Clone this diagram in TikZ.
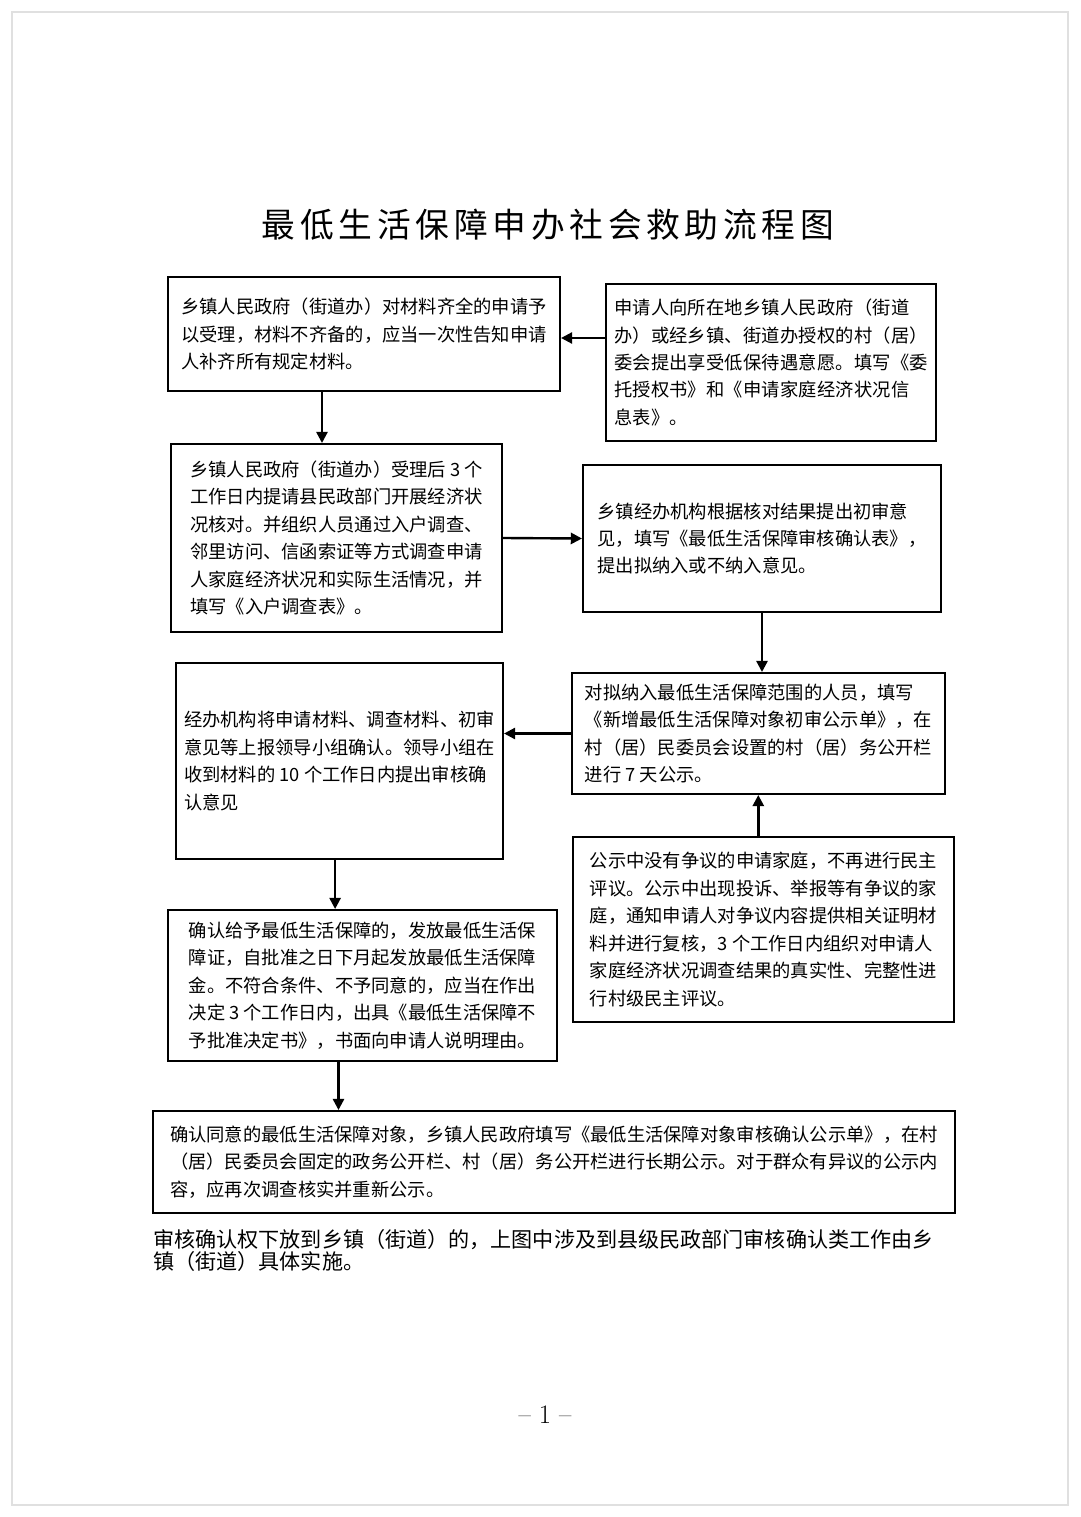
\documentclass[tikz,border=0pt]{standalone}
\usepackage{fontspec}
\usepackage{tikz}
\usepackage{xcolor}
\usetikzlibrary{arrows.meta}
\newfontfamily\cjk{Noto Sans CJK SC}
\newfontfamily\cjkwide[LetterSpace=1]{Noto Sans CJK SC}
\newfontfamily\cjktitle[LetterSpace=14]{Noto Sans CJK SC}
\tikzset{
    flow-box/.style = {draw=black, fill=white, line width=1.4pt, rectangle, align=left, inner sep=4pt,
        font=\cjk\fontsize{13pt}{19.5pt}\selectfont},
    flow-arrow/.style = {line width=1.7pt, -{Triangle[length=2.8mm, width=2.8mm]}},
    page-frame/.style = {draw=black!12, line width=1.5pt},
}

\begin{document}
\begin{tikzpicture}[x=0.025cm, y=-0.025cm]
\useasboundingbox (0,0) rectangle (1080,1517);
\draw[page-frame] (12,12) rectangle (1068,1505);
\node[font=\cjktitle\fontsize{24pt}{28pt}\selectfont] (title) at (548,225) {最低生活保障申办社会救助流程图};

\node[flow-box, minimum width=9.8cm, minimum height=2.85cm] (accept) at (364,334) {乡镇人民政府（街道办）对材料齐全的申请予\\
以受理，材料不齐备的，应当一次性告知申请\\
人补齐所有规定材料。};
\node[flow-box, font=\cjkwide\fontsize{13pt}{19.5pt}\selectfont, minimum width=8.25cm, minimum height=3.925cm] (apply) at (771,362.5) {申请人向所在地乡镇人民政府（街道\\
办）或经乡镇、街道办授权的村（居）\\
委会提出享受低保待遇意愿。填写《委\\
托授权书》和《申请家庭经济状况信\\
息表》。};
\node[flow-box, minimum width=8.275cm, minimum height=4.7cm] (survey) at (336.5,538) {乡镇人民政府（街道办）受理后 3 个\\
工作日内提请县民政部门开展经济状\\
况核对。并组织人员通过入户调查、\\
邻里访问、信函索证等方式调查申请\\
人家庭经济状况和实际生活情况，并\\
填写《入户调查表》。};
\node[flow-box, minimum width=8.95cm, minimum height=3.675cm] (review) at (762,538.5) {乡镇经办机构根据核对结果提出初审意\\
见，填写《最低生活保障审核确认表》，\\
提出拟纳入或不纳入意见。};
\node[flow-box, minimum width=9.325cm, minimum height=3.025cm] (notice) at (758.5,733.5) {对拟纳入最低生活保障范围的人员，填写\\
《新增最低生活保障对象初审公示单》，在\\
村（居）民委员会设置的村（居）务公开栏\\
进行 7 天公示。};
\node[flow-box, minimum width=8.175cm, minimum height=4.9cm] (report) at (339.5,761) {经办机构将申请材料、调查材料、初审\\
意见等上报领导小组确认。领导小组在\\
收到材料的 10 个工作日内提出审核确\\
认意见};
\node[flow-box, minimum width=9.525cm, minimum height=4.625cm] (dispute) at (763.5,929.5) {公示中没有争议的申请家庭，不再进行民主\\
评议。公示中出现投诉、举报等有争议的家\\
庭，通知申请人对争议内容提供相关证明材\\
料并进行复核，3 个工作日内组织对申请人\\
家庭经济状况调查结果的真实性、完整性进\\
行村级民主评议。};
\node[flow-box, minimum width=9.725cm, minimum height=3.775cm] (decide) at (362.5,985.5) {确认给予最低生活保障的，发放最低生活保\\
障证，自批准之日下月起发放最低生活保障\\
金。不符合条件、不予同意的，应当在作出\\
决定 3 个工作日内，出具《最低生活保障不\\
予批准决定书》，书面向申请人说明理由。};
\node[flow-box, minimum width=20.05cm, minimum height=2.55cm] (publish) at (554,1162) {确认同意的最低生活保障对象，乡镇人民政府填写《最低生活保障对象审核确认公示单》，在村\\
（居）民委员会固定的政务公开栏、村（居）务公开栏进行长期公示。对于群众有异议的公示内\\
容，应再次调查核实并重新公示。};

\node[anchor=north west, inner sep=0pt, align=left, font=\cjk\fontsize{15pt}{15.8pt}\selectfont] (remark) at (153,1229) {审核确认权下放到乡镇（街道）的，上图中涉及到县级民政部门审核确认类工作由乡\\
镇（街道）具体实施。};
\node[font=\fontsize{19pt}{21pt}\selectfont] (pageno) at (545,1415) {-- 1 --};

\draw[flow-arrow] (apply.west |- 0,338) -- (accept.east |- 0,338);
\draw[flow-arrow] ([xshift=-1.05cm]accept.south) -- ([xshift=-1.05cm]accept.south |- survey.north);
\draw[flow-arrow] (survey.east) -- (review.west);
\draw[flow-arrow] (review.south) -- (review.south |- notice.north);
\draw[flow-arrow] ([xshift=-0.13cm]dispute.north) -- ([xshift=-0.13cm]dispute.north |- notice.south);
\draw[flow-arrow] (notice.west) -- (notice.west -| report.east);
\draw[flow-arrow] ([xshift=-0.11cm]report.south) -- ([xshift=-0.11cm]report.south |- decide.north);
\draw[flow-arrow] ([xshift=-0.6cm]decide.south) -- ([xshift=-0.6cm]decide.south |- publish.north);
\end{tikzpicture}
\end{document}
